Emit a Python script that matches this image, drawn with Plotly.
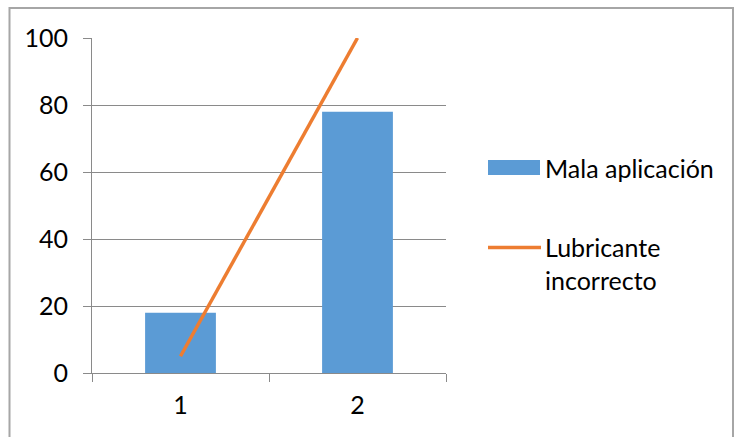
import plotly.graph_objects as go

# Data
categories = ["1", "2"]
mala_aplicacion = [18, 78]
lubricante_incorrecto = [5, 100]
series_names = ["Mala aplicación", "Lubricante<br>incorrecto"]
y_ticks = [0, 20, 40, 60, 80, 100]

BLUE = "#5B9BD5"
ORANGE = "#ED7D31"
GRID = "#8a8a8a"
FONT = "Lato, 'Open Sans', sans-serif"
FS = 25

W, H = 734, 437
L, R, T, B = 92, 288, 38, 64
PW, PH = W - L - R, H - T - B


def px(x):
    return (x - L) / PW


def py(y):
    return (H - B - y) / PH


fig = go.Figure()
fig.add_trace(go.Bar(x=categories, y=mala_aplicacion, name="Mala aplicación",
                     marker=dict(color=BLUE, line=dict(width=0)), showlegend=False))
fig.add_trace(go.Scatter(x=categories, y=lubricante_incorrecto, name="Lubricante incorrecto",
                         mode="lines", line=dict(color=ORANGE, width=3.5), showlegend=False))

# Hand-drawn legend on the right
shapes = [
    dict(type="rect", xref="paper", yref="paper", x0=px(488), x1=px(540), y0=py(175), y1=py(160),
         fillcolor=BLUE, line=dict(width=0)),
    dict(type="line", xref="paper", yref="paper", x0=px(488), x1=px(541), y0=py(247.5), y1=py(247.5),
         line=dict(color=ORANGE, width=3.5)),
    # chart frame
    dict(type="rect", xref="paper", yref="paper", x0=px(9.5), x1=px(733), y0=py(450), y1=py(8),
         line=dict(color="#a6a6a6", width=2), fillcolor="rgba(0,0,0,0)", layer="below"),
]
annotations = [
    dict(xref="paper", yref="paper", x=px(543), y=py(167.5), text=series_names[0], showarrow=False,
         xanchor="left", yanchor="middle", font=dict(family=FONT, size=FS, color="#000")),
    dict(xref="paper", yref="paper", x=px(543), y=py(263.5), text=series_names[1], showarrow=False,
         xanchor="left", yanchor="middle", align="left",
         font=dict(family=FONT, size=FS, color="#000")),
]

fig.update_layout(
    width=W, height=H,
    margin=dict(l=L, r=R, t=T, b=B, pad=0),
    paper_bgcolor="white", plot_bgcolor="white",
    bargap=0.6,
    font=dict(family=FONT, size=FS, color="#000"),
    shapes=shapes, annotations=annotations,
    showlegend=False,
)
fig.update_xaxes(
    type="category", tickson="boundaries", ticks="outside", ticklen=8, tickcolor=GRID,
    tickwidth=1, showline=True, linecolor=GRID, linewidth=1, showgrid=False,
    ticklabelstandoff=10, tickfont=dict(family=FONT, size=FS, color="#000"),
)
fig.update_yaxes(
    range=[0, 100], tickvals=y_ticks, ticks="outside", ticklen=8, tickcolor=GRID, tickwidth=1,
    showline=True, linecolor=GRID, linewidth=1, showgrid=True, gridcolor=GRID, gridwidth=1,
    zeroline=False, ticklabelstandoff=10, tickfont=dict(family=FONT, size=FS, color="#000"),
)

fig.write_html("out.html")
